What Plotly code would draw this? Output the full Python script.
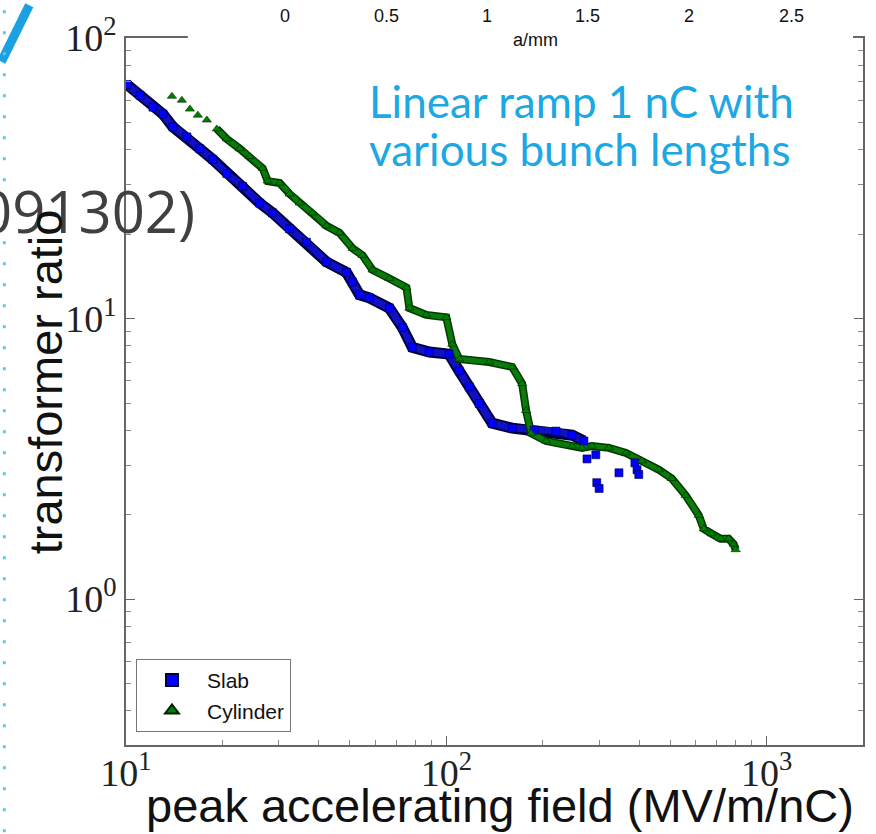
import plotly.graph_objects as go

# ---- data ----
slab_x = [10.07, 11.06, 12.14, 13.04, 14.01, 15.49, 17.0, 18.66, 20.64, 23.14, 26.15, 28.7,
          32.4, 36.6, 42.3, 48.8, 50.9, 53.6, 57.5, 66.4, 72.9, 78.3, 88.5, 102, 109.7, 118,
          126.7, 139, 160.6, 188, 220, 247, 269]
slab_y = [68.3, 62.5, 56.7, 53.6, 48.2, 44.4, 40.3, 36.9, 32.9, 29.6, 25.8, 23.8,
          20.9, 18.7, 15.9, 14.6, 13.5, 12.15, 11.86, 10.9, 9.3, 7.9, 7.6, 7.47, 6.51, 5.71,
          4.98, 4.24, 4.07, 4.0, 3.97, 3.84, 3.66]
slab_sc_x = [275, 293, 295, 300, 346, 388, 394, 399]
slab_sc_y = [3.16, 3.27, 2.60, 2.48, 2.82, 3.06, 2.89, 2.78]

cyl_x = [13.91, 14.94, 15.83, 16.76, 17.88, 19.21, 20.64, 22.65, 24.34, 26.72, 27.70, 30.18,
         32.43, 34.84, 38.24, 42.28, 46.42, 50.96, 54.75, 58.83, 66.43, 75.08, 76.70, 86.62,
         100, 104.4, 109.8, 136.1, 160.6, 172.5, 177.5, 184.0, 204.9, 246.9, 265.3, 285.0,
         322.0, 363.8, 407.9, 460.9, 505.8, 559.4, 614.1, 636.5, 674.1, 719.0, 761.5, 789.3, 800.8]
cyl_y = [62.0, 60.0, 55.8, 53.1, 51.0, 47.4, 43.7, 40.3, 37.8, 34.3, 30.9, 30.4,
         27.8, 25.8, 23.8, 21.4, 20.2, 17.8, 16.8, 14.9, 13.9, 12.9, 10.9, 10.3,
         10.1, 8.1, 7.17, 7.0, 6.72, 5.86, 4.70, 3.90, 3.66, 3.51, 3.46, 3.51,
         3.46, 3.32, 3.11, 2.89, 2.69, 2.34, 1.99, 1.78, 1.71, 1.64, 1.64, 1.57, 1.50]

top_ticks = ["0", "0.5", "1", "1.5", "2", "2.5"]
x_major = [10, 100, 1000]
x_major_text = ["10<sup>1</sup>", "10<sup>2</sup>", "10<sup>3</sup>"]
y_major = [1, 10, 100]
y_major_text = ["10<sup>0</sup>", "10<sup>1</sup>", "10<sup>2</sup>"]
x_minor = [m * d for d in (10, 100, 1000) for m in range(2, 10) if m * d <= 2000]
y_minor = [m * d for d in (0.1, 1, 10) for m in range(2, 10) if m * d >= 0.3]

# ---- layout helpers (pixel -> paper) ----
L, R, T, B = 126, 11, 30, 89
W, H = 876, 834
PW, PH = W - L - R, H - T - B
def px(x):
    return (x - L) / PW
def py(y):
    return (H - B - y) / PH

fig = go.Figure()

# bands (dense markers appear as a thick band)
fig.add_trace(go.Scatter(x=slab_x, y=slab_y, mode="lines", showlegend=False, hoverinfo="skip",
                         line=dict(color="#00003c", width=11)))
fig.add_trace(go.Scatter(x=slab_x, y=slab_y, mode="lines", showlegend=False, hoverinfo="skip",
                         line=dict(color="#1010c8", width=7)))
fig.add_trace(go.Scatter(x=cyl_x[5:], y=cyl_y[5:], mode="lines", showlegend=False, hoverinfo="skip",
                         line=dict(color="#003a00", width=8)))
fig.add_trace(go.Scatter(x=cyl_x[5:], y=cyl_y[5:], mode="lines", showlegend=False, hoverinfo="skip",
                         line=dict(color="#0a7a0a", width=5)))

fig.add_trace(go.Scatter(x=slab_x + slab_sc_x, y=slab_y + slab_sc_y, mode="markers", name="Slab",
                         marker=dict(symbol="square", size=8, color="#0000ff",
                                     line=dict(color="#00003a", width=0.6))))
fig.add_trace(go.Scatter(x=cyl_x, y=cyl_y, mode="markers", name="Cylinder",
                         marker=dict(symbol="triangle-up", size=8, color="#008000",
                                     line=dict(color="#002200", width=0.6))))

axis_common = dict(showline=True, linecolor="#666666", linewidth=1.5, mirror="allticks",
                   ticks="inside", ticklen=9, tickcolor="#666666", showgrid=False, zeroline=False,
                   tickfont=dict(family="Liberation Serif", size=38, color="#222222"))

fig.update_xaxes(type="log", range=[1, 3.301], tickmode="array", tickvals=x_major,
                 ticktext=x_major_text, ticklabelstandoff=-6,
                 minor=dict(ticks="inside", ticklen=5, tickcolor="#888888", tickmode="array",
                            tickvals=x_minor, showgrid=False),
                 **axis_common)
fig.update_yaxes(type="log", range=[-0.52, 2.0], tickmode="array", tickvals=y_major,
                 ticktext=y_major_text,
                 minor=dict(ticks="inside", ticklen=5, tickcolor="#888888", tickmode="array",
                            tickvals=y_minor, showgrid=False),
                 **axis_common)

shapes = [
    # white box of the overlapping upper picture hiding the top spine
    dict(type="rect", xref="paper", yref="paper", x0=px(188), x1=px(855), y0=py(42), y1=py(-5),
         fillcolor="white", line=dict(width=0), layer="above"),
    # slide decorations
    dict(type="line", xref="paper", yref="paper", x0=px(29), y0=py(-3), x1=px(1), y1=py(54),
         line=dict(color="#1ba1e2", width=9)),
    dict(type="line", xref="paper", yref="paper", x0=px(4), y0=py(2), x1=px(4), y1=py(834),
         line=dict(color="#5fc4ee", width=3, dash="3px,18px")),
]

annotations = [
    dict(text="091302)", x=px(197), y=py(204), xanchor="right", yanchor="middle",
         font=dict(family="Open Sans", size=58, color="#404040")),
    dict(text="transformer ratio", x=px(45), y=py(378), textangle=-90, xanchor="center",
         yanchor="middle", font=dict(family="Liberation Sans", size=47, color="#111111")),
    dict(text="peak accelerating field (MV/m/nC)", x=px(501), y=py(806), xanchor="center",
         yanchor="middle", font=dict(family="Liberation Sans", size=47, color="#111111")),
    dict(text="Linear ramp 1 nC with", x=px(368), y=py(94), xanchor="left", yanchor="middle",
         font=dict(family="Lato", size=44, color="#1ca8e3")),
    dict(text="various bunch lengths", x=px(368), y=py(142), xanchor="left", yanchor="middle",
         font=dict(family="Lato", size=44, color="#1ca8e3")),
    dict(text="a/mm", x=px(537), y=py(32), xanchor="center", yanchor="middle",
         font=dict(family="Liberation Sans", size=18, color="#111111")),
]
for lab, xp in zip(top_ticks, [285, 387, 488, 589, 691, 793]):
    annotations.append(dict(text=lab, x=px(xp), y=py(8), xanchor="center", yanchor="middle",
                            font=dict(family="Liberation Sans", size=18, color="#111111")))
for a in annotations:
    a.update(xref="paper", yref="paper", showarrow=False)

fig.update_layout(
    width=W, height=H, margin=dict(l=L, r=R, t=T, b=B), autosize=False,
    paper_bgcolor="white", plot_bgcolor="white",
    shapes=shapes, annotations=annotations,
    legend=dict(x=px(136), y=py(658), xanchor="left", yanchor="top",
                bordercolor="#777777", borderwidth=1, bgcolor="white",
                font=dict(family="Liberation Sans", size=21, color="#111111"),
                itemsizing="constant", itemwidth=60, tracegroupgap=12),
)

fig.write_html("out.html")
